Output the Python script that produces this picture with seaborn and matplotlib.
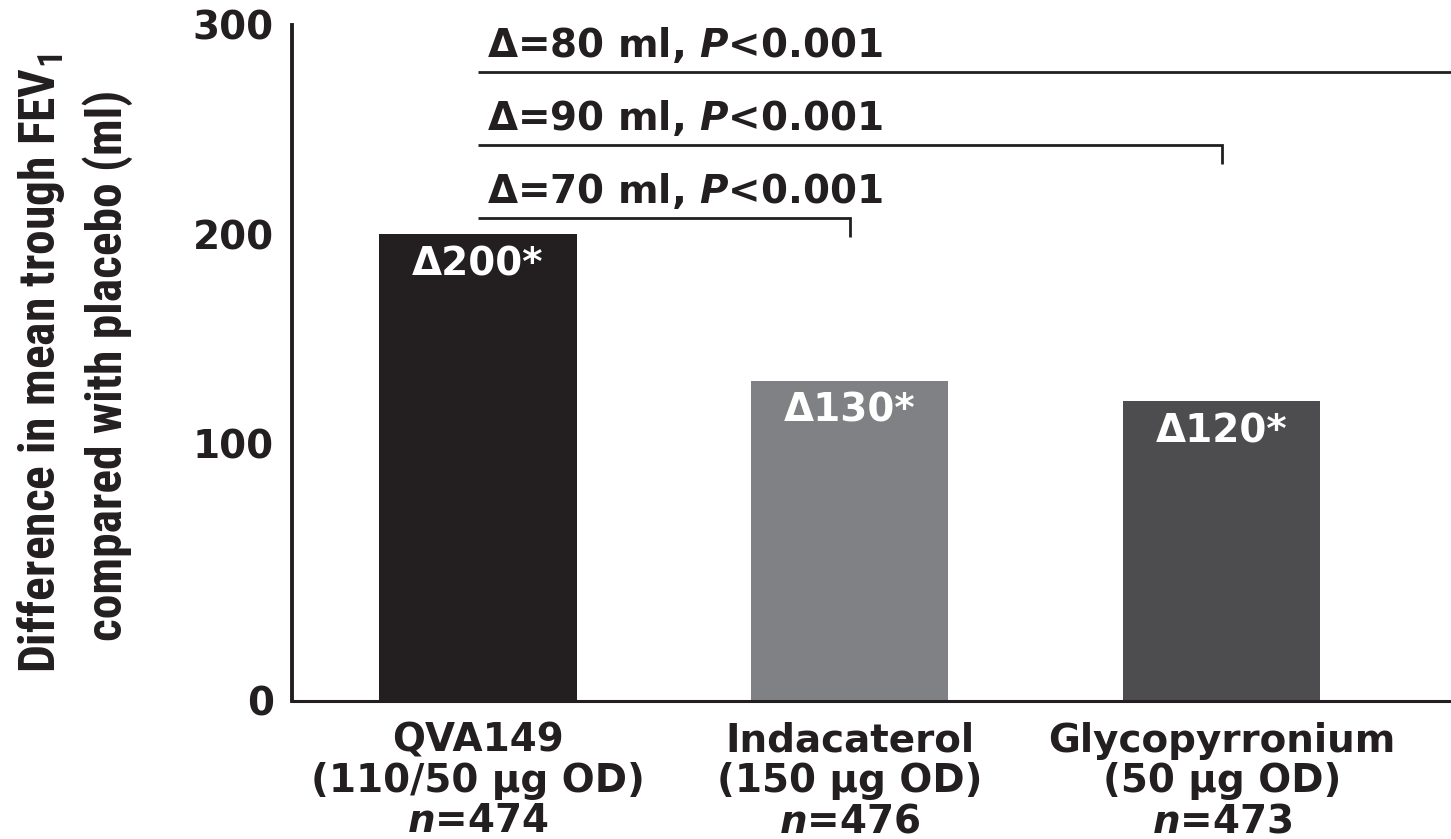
import numpy as np
import pandas as pd
import matplotlib
matplotlib.use("Agg")
import matplotlib.pyplot as plt
import seaborn as sns
from matplotlib import font_manager as fm

# ---- data -------------------------------------------------------------
treatments = ["QVA149", "Indacaterol", "Glycopyrronium"]
doses = ["(110/50 µg OD)", "(150 µg OD)", "(50 µg OD)"]
n_patients = [474, 476, 473]
fev1_change = [200, 130, 120]          # ml vs placebo
bar_colors = ["#231f20", "#808184", "#4d4d4f"]

# QVA149 vs comparators: Indacaterol, Glycopyrronium, off-panel comparator
cmp_target = [1, 2, 3]
cmp_delta = [70, 90, 80]
cmp_p = ["0.001", "0.001", "0.001"]

ytick_values = [0, 100, 200, 300]

# ---- style ------------------------------------------------------------
sns.set_style("white")
INK = "#231f20"
FS = 28
plt.rcParams["font.family"] = ["DejaVu Sans"]
plt.rcParams["font.weight"] = "bold"
plt.rcParams["mathtext.fontset"] = "custom"
plt.rcParams["mathtext.rm"] = "DejaVu Sans:bold"
plt.rcParams["mathtext.it"] = "DejaVu Sans:italic:bold"
plt.rcParams["mathtext.bf"] = "DejaVu Sans:bold"
plt.rcParams["text.color"] = INK

available = {f.name for f in fm.fontManager.ttflist}
if "Roboto Condensed" in available:
    ylab_font = dict(family="Roboto Condensed", weight="bold")
elif "Liberation Sans Narrow" in available:
    ylab_font = dict(family="Liberation Sans Narrow", weight="bold")
else:
    ylab_font = dict(family="DejaVu Sans", weight="bold", stretch="condensed")

W, H = 1451, 839
fig = plt.figure(figsize=(W / 100, H / 100), dpi=100)
ax = fig.add_axes([292 / W, 1 - 701 / H, 1 - 292 / W, (701 - 25) / H])

df = pd.DataFrame({"treatment": treatments, "change": fev1_change})
sns.barplot(data=df, x="treatment", y="change", hue="treatment",
            palette=bar_colors, order=treatments, hue_order=treatments,
            width=0.53, saturation=1, legend=False, linewidth=0, ax=ax)

# Stretched lower segment of the value axis (0-100 occupies more room)
K = 1.232
def fwd(y):
    y = np.asarray(y, dtype=float)
    return np.where(y < 100, y * K, 100 * K + (y - 100))
def inv(v):
    v = np.asarray(v, dtype=float)
    return np.where(v < 100 * K, v / K, v - 100 * K + 100)
ax.set_yscale("function", functions=(fwd, inv))
ax.set_ylim(0, 300)
ax.set_xlim(-0.5, 2.616)

# spines & ticks
for s in ["top", "right"]:
    ax.spines[s].set_visible(False)
ax.spines["left"].set_linewidth(2.8)
ax.spines["bottom"].set_linewidth(2.2)
ax.spines["left"].set_color(INK)
ax.spines["bottom"].set_color(INK)

ax.set_yticks(ytick_values)
ax.set_yticklabels([str(v) for v in ytick_values])
ax.tick_params(axis="y", direction="in", length=14.4, width=0.8,
               color="#555555", pad=13, labelsize=FS, labelcolor=INK)

xlabels = [f"{t}\n{d}\n$\\mathit{{n}}$={n}"
           for t, d, n in zip(treatments, doses, n_patients)]
ax.set_xticks(range(len(treatments)))
ax.set_xticklabels(xlabels, linespacing=1.07)
ax.tick_params(axis="x", which="major", length=0, pad=15, labelsize=FS,
               labelcolor=INK)
ax.set_xticks([i + 0.5 for i in range(len(treatments))], minor=True)
ax.tick_params(axis="x", which="minor", direction="in", length=8.6,
               width=0.8, color="#555555")
ax.set_xlabel("")
ax.set_ylabel("")

# value labels inside bars
for i, v in enumerate(fev1_change):
    ax.annotate(f"Δ{v}*", xy=(i, v), xytext=(0, -21.6),
                textcoords="offset points", ha="center", va="center",
                color="white", fontsize=FS, fontweight="bold")

# comparison brackets
bracket_y = [207.7, 242.6, 277.5]
drop = 9
for tgt, d, p, yb in zip(cmp_target, cmp_delta, cmp_p, bracket_y):
    ax.plot([0, tgt, tgt], [yb, yb, yb - drop], color=INK, lw=2,
            solid_capstyle="butt", solid_joinstyle="miter", clip_on=True)
    ax.annotate(f"Δ={d} ml, $\\mathit{{P}}$<{p}", xy=(0, yb),
                xytext=(6.5, 10.5), textcoords="offset points",
                ha="left", va="baseline", fontsize=FS, fontweight="bold")

# y-axis title, two lines, sized to the axis height
line1 = "Difference in mean trough FEV$_\\mathregular{1}$"
line2 = "compared with placebo (ml)"
base = 36
t1 = fig.text(55 / W, 1 - 363 / H, line1, rotation=90, rotation_mode="anchor",
              ha="center", va="baseline", fontsize=base, **ylab_font)
t2 = fig.text(122 / W, 1 - 365 / H, line2, rotation=90, rotation_mode="anchor",
              ha="center", va="baseline", fontsize=base, **ylab_font)
renderer = fig.canvas.get_renderer()
length = t1.get_window_extent(renderer).height
size = base * 620 / length
t1.set_fontsize(size)
t2.set_fontsize(size)

fig.savefig("out.png", dpi=100, facecolor="white")
